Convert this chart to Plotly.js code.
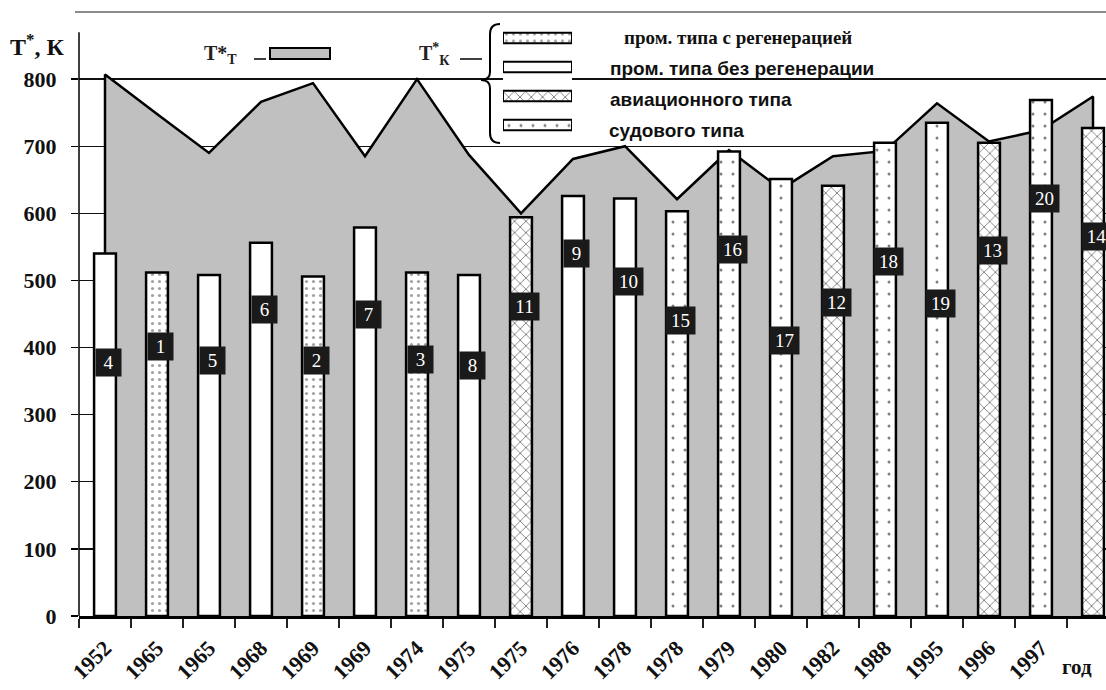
<!DOCTYPE html>
<html>
<head>
<meta charset="utf-8">
<script src="https://cdn.plot.ly/plotly-3.0.1.min.js"></script>
<style>
  html, body { margin: 0; padding: 0; background: #fff; }
  #chart { width: 1106px; height: 690px; }
</style>
</head>
<body>
<div id="chart"></div>
<script>
// ---------- data ----------
const yearLabels = ['1952','1965','1965','1968','1969','1969','1974','1975','1975','1976',
                    '1978','1978','1979','1980','1982','1988','1995','1996','1997'];
const unitLabel = 'год';
const engineNo   = [4, 1, 5, 6, 2, 7, 3, 8, 11, 9, 10, 15, 16, 17, 12, 18, 19, 13, 20, 14];
const engineType = ['plain','regen','plain','plain','regen','plain','regen','plain','avia','plain',
                    'plain','ship','ship','ship','avia','ship','ship','avia','ship','avia'];
// T*_K, K (bars)
const tK = [540, 512, 508, 556, 506, 579, 512, 508, 594, 626, 622, 603, 692, 651, 641, 705, 735, 705, 769, 727];
// T*_T, K (grey area)
const tT = [807, 748, 690, 766, 794, 685, 800, 687, 600, 681, 700, 621, 694, 636, 685, 693, 764, 707, 724, 774];
// level (K) at which each number tag sits
const tagLevel = [378, 402, 380, 456, 380, 450, 382, 374, 461, 540, 498, 440, 546, 411, 467, 528, 465, 544, 622, 566];
// y tick values
const yTicks = [0, 100, 200, 300, 400, 500, 600, 700, 800];
// legend
const legendTypes = ['regen', 'plain', 'avia', 'ship'];
const legendTexts = ['пром. типа с регенерацией', 'пром. типа без регенерации', 'авиационного типа', 'судового типа'];

// ---------- styles ----------
const patternOf = {
  regen: {shape: '.', size: 7,  solidity: 0.16, fg: '#444'},
  plain: {shape: '',  size: 8,  solidity: 0.3,  fg: '#000'},
  avia:  {shape: 'x', size: 8,  solidity: 0.22, fg: '#000'},
  ship:  {shape: '.', size: 12, solidity: 0.05, fg: '#000'}
};
const SERIF = 'Liberation Serif, Times New Roman, serif';
const SANS = 'Liberation Sans, Arial, sans-serif';

const W = 1106, H = 690, ML = 79, MR = 0, MT = 12, MB = 74;
const px = x => (x - ML) / (W - ML - MR);
const py = y => (H - MB - y) / (H - MB - MT);

const idx = tK.map((_, i) => i);
const n = idx.length;
const xRange = [-0.5, -0.5 + (W - ML - MR) / 52];
const yRange = [0, 900];

function pat(list, key) { return list.map(t => patternOf[t][key]); }

// grey area T*_T (closed down to zero at both ends)
const areaTrace = {
  type: 'scatter', mode: 'lines',
  x: [idx[0]].concat(idx, [idx[n - 1]]),
  y: [0].concat(tT, [0]),
  fill: 'tozeroy', fillcolor: '#c0c0c0',
  line: {color: '#000', width: 2.5},
  xaxis: 'x', yaxis: 'y',
  hoverinfo: 'skip', showlegend: false
};

// bars T*_K
const barTrace = {
  type: 'bar', x: idx, y: tK, width: 0.42,
  xaxis: 'x2', yaxis: 'y2',
  marker: {
    color: '#fff',
    line: {color: '#000', width: 2.5},
    pattern: {
      shape: pat(engineType, 'shape'),
      size: pat(engineType, 'size'),
      solidity: pat(engineType, 'solidity'),
      fgcolor: pat(engineType, 'fg'),
      bgcolor: '#fff',
      fillmode: 'overlay'
    }
  },
  hoverinfo: 'skip', showlegend: false
};

// legend swatches (small horizontal bars)
const legendTrace = {
  type: 'bar', orientation: 'h',
  y: legendTypes.map((_, i) => i), x: legendTypes.map(() => 1),
  width: 0.36,
  xaxis: 'x3', yaxis: 'y3',
  marker: {
    color: '#fff',
    line: {color: '#000', width: 2},
    pattern: {
      shape: pat(legendTypes, 'shape'),
      size: pat(legendTypes, 'size'),
      solidity: pat(legendTypes, 'solidity'),
      fgcolor: pat(legendTypes, 'fg'),
      bgcolor: '#fff',
      fillmode: 'overlay'
    }
  },
  hoverinfo: 'skip', showlegend: false
};

// ---------- annotations ----------
const annotations = [];
idx.forEach(i => {
  const two = String(engineNo[i]).length > 1;
  annotations.push({
    xref: 'x', yref: 'y', x: i + 0.07, y: tagLevel[i],
    text: String(engineNo[i]), showarrow: false,
    bgcolor: '#1a1a1a', borderpad: 0,
    width: two ? 29 : 25, height: 27,
    font: {family: SERIF, size: 19, color: '#fff'},
    xanchor: 'center', yanchor: 'middle'
  });
});
// axis title
annotations.push({xref: 'paper', yref: 'paper', x: px(37), y: py(45), text: 'T<sup>*</sup>, К',
  showarrow: false, xanchor: 'center', yanchor: 'middle',
  font: {family: SERIF, size: 24, color: '#111', weight: 'bold'}});
// unit under x axis
annotations.push({xref: 'paper', yref: 'paper', x: px(1077), y: py(667), text: unitLabel,
  showarrow: false, xanchor: 'center', yanchor: 'middle',
  font: {family: SERIF, size: 21, color: '#111', weight: 'bold'}});
// legend texts
annotations.push({xref: 'paper', yref: 'paper', x: px(202), y: py(55), text: 'T*<sub>T</sub>',
  showarrow: false, xanchor: 'left', yanchor: 'middle',
  font: {family: SERIF, size: 20, color: '#222', weight: 'bold'}});
annotations.push({xref: 'paper', yref: 'paper', x: px(417), y: py(54), text: 'T<sup>*</sup><sub>К</sub>',
  showarrow: false, xanchor: 'left', yanchor: 'middle',
  font: {family: SERIF, size: 20, color: '#222', weight: 'bold'}});
const legTextX = [622, 608, 608, 607];
const legTextY = [37, 69, 100, 131];
legendTexts.forEach((t, i) => {
  annotations.push({xref: 'paper', yref: 'paper', x: px(legTextX[i]), y: py(legTextY[i]), text: t,
    showarrow: false, xanchor: 'left', yanchor: 'middle',
    font: i === 0 ? {family: SERIF, size: 19, color: '#111', weight: 'bold'}
                  : {family: SANS, size: 19, color: '#111', weight: 'bold'}});
});

// ---------- shapes (frame / legend decoration) ----------
const bracePath = [
  'M', px(500), py(24), 'Q', px(490), py(24), px(490), py(34),
  'L', px(490), py(72), 'Q', px(490), py(80), px(481), py(80),
  'Q', px(490), py(80), px(490), py(88),
  'L', px(490), py(133), 'Q', px(490), py(143), px(500), py(143)
].join(' ');
const shapes = [
  {type: 'line', xref: 'paper', yref: 'paper', x0: px(75), x1: 1, y0: py(12), y1: py(12),
   line: {color: '#8a8a8a', width: 2}},
  {type: 'line', xref: 'paper', yref: 'y', x0: 0, x1: 0, y0: 0, y1: 870,
   line: {color: '#000', width: 1.5}},
  {type: 'rect', xref: 'paper', yref: 'paper', x0: px(270), x1: px(330), y0: py(59), y1: py(48),
   fillcolor: '#c0c0c0', line: {color: '#000', width: 2}},
  {type: 'line', xref: 'paper', yref: 'paper', x0: px(254), x1: px(266), y0: py(59), y1: py(59),
   line: {color: '#000', width: 1.5}},
  {type: 'line', xref: 'paper', yref: 'paper', x0: px(460), x1: px(482), y0: py(59), y1: py(59),
   line: {color: '#000', width: 1.5}},
  {type: 'path', xref: 'paper', yref: 'paper', path: bracePath, line: {color: '#000', width: 2}}
];

// ---------- layout ----------
const layout = {
  width: W, height: H,
  margin: {l: ML, r: MR, t: MT, b: MB, pad: 0},
  paper_bgcolor: '#fff', plot_bgcolor: '#fff',
  showlegend: false,
  xaxis: {
    range: xRange, fixedrange: true,
    tickmode: 'array', tickvals: idx.slice(0, yearLabels.length), ticktext: yearLabels,
    tickangle: -45, ticks: '', ticklabelstandoff: 8,
    tickfont: {family: SERIF, size: 22, color: '#111', weight: 'bold'},
    showgrid: false, zeroline: false,
    showline: true, linecolor: '#000', linewidth: 2.5,
    minor: {tickvals: idx.concat([n]).map(v => v - 0.5), ticks: 'outside', ticklen: 9,
            tickwidth: 1.2, tickcolor: '#222', showgrid: false}
  },
  yaxis: {
    range: yRange, fixedrange: true,
    tickmode: 'array', tickvals: yTicks,
    ticks: 'outside', ticklen: 7, tickwidth: 1.3, tickcolor: '#000',
    ticklabelstandoff: 10,
    tickfont: {family: SERIF, size: 22, color: '#111', weight: 'bold'},
    showgrid: true, gridcolor: '#111', gridwidth: 1.3,
    zeroline: false, showline: false
  },
  xaxis2: {overlaying: 'x', anchor: 'y2', range: xRange, visible: false, fixedrange: true},
  yaxis2: {overlaying: 'y', anchor: 'x2', range: yRange, visible: false, fixedrange: true},
  xaxis3: {domain: [px(503), px(572)], anchor: 'y3', range: [0, 1], visible: false, fixedrange: true},
  yaxis3: {domain: [py(139.5), py(23.5)], anchor: 'x3', range: [legendTypes.length - 0.5, -0.5],
           visible: false, fixedrange: true},
  annotations: annotations,
  shapes: shapes,
  bargap: 0
};

Plotly.newPlot('chart', [areaTrace, barTrace, legendTrace], layout, {staticPlot: true, displayModeBar: false});
</script>
</body>
</html>
